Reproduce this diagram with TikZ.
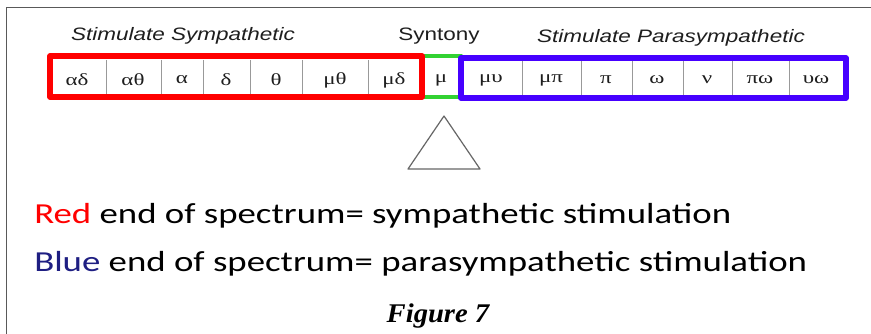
\documentclass[tikz,border=0pt]{standalone}
\usepackage{fontspec}
\newfontfamily\arialf{Liberation Sans}
\newfontfamily\calf{Carlito}
\newfontfamily\timesf{Liberation Serif}
\definecolor{boxred}{RGB}{255,0,0}
\definecolor{boxgreen}{RGB}{50,210,50}
\definecolor{boxblue}{RGB}{70,0,255}
\definecolor{navy}{RGB}{30,30,130}
\definecolor{txtgray}{RGB}{30,30,30}
\tikzset{
  px/.style={x=1pt,y=-1pt},
  cell/.style={inner sep=0pt,anchor=center,text=txtgray,font=\timesf\fontsize{17}{19}\selectfont,xscale=1.35},
  topl/.style={inner sep=0pt,anchor=base,text=txtgray,xscale=1.25},
  divider/.style={draw=gray!80,line width=0.6pt},
  bottomtxt/.style={inner sep=0pt,anchor=base west,text=black,font=\calf\fontsize{29}{32}\selectfont,xscale=1.27},
}
\begin{document}
\begin{tikzpicture}[px]
\useasboundingbox (0,0) rectangle (871,334);
\fill[white] (0,0) rectangle (871,334);
% frame
\draw[gray!70!black,line width=1pt] (6,334) -- (6,8) -- (871,8);
% top labels
\node[topl,font=\arialf\itshape\fontsize{18}{20}\selectfont] (lsym) at (183,41) {Stimulate Sympathetic};
\node[topl,font=\arialf\fontsize{18}{20}\selectfont] (lsyn) at (439,41) {Syntony};
\node[topl,font=\arialf\itshape\fontsize{18}{20}\selectfont] (lpar) at (671,43) {Stimulate Parasympathetic};
% dividers
\foreach \x in {106,161,203,250,302,368,522,581,632,683,732,789}
  \draw[divider] (\x,60) -- (\x,95);
% cells
\node[cell] (c1) at (77,80) {αδ};
\node[cell] (c2) at (133,80) {αθ};
\node[cell] (c3) at (182,80) {α};
\node[cell] (c4) at (226,80) {δ};
\node[cell] (c5) at (276,80) {θ};
\node[cell] (c6) at (335,80) {μθ};
\node[cell] (c7) at (394,80) {μδ};
\node[cell] (c8) at (441,80) {μ};
\node[cell] (c9) at (491,80) {μυ};
\node[cell] (c10) at (551,80) {μπ};
\node[cell] (c11) at (606,80) {π};
\node[cell] (c12) at (657,80) {ω};
\node[cell] (c13) at (707,80) {ν};
\node[cell] (c14) at (760,80) {πω};
\node[cell] (c15) at (816,80) {υω};
% coloured boxes
\draw[boxgreen,line width=4.5pt,line cap=round] (422,56) -- (461,56);
\draw[boxgreen,line width=4.5pt,line cap=round] (422,97) -- (461,97);
\draw[boxred,line width=5.5pt,line join=round] (50,56) rectangle (422,97);
\draw[boxblue,line width=5.5pt,line join=round] (461,58) rectangle (846,98);
% triangle
\draw[gray!80!black,line width=1.2pt,line join=round] (444,116) -- (480,169) -- (408,169) -- cycle;
% bottom text
\node[bottomtxt] (t1) at (34,224) {\textcolor{boxred}{Red} end of spectrum= sympathetic stimulation};
\node[bottomtxt] (t2) at (34,272) {\textcolor{navy}{Blue} end of spectrum= parasympathetic stimulation};
\node[inner sep=0pt,anchor=base,font=\timesf\bfseries\itshape\fontsize{27}{30}\selectfont,xscale=1.06] (fig) at (438,322) {Figure 7};
\end{tikzpicture}
\end{document}
